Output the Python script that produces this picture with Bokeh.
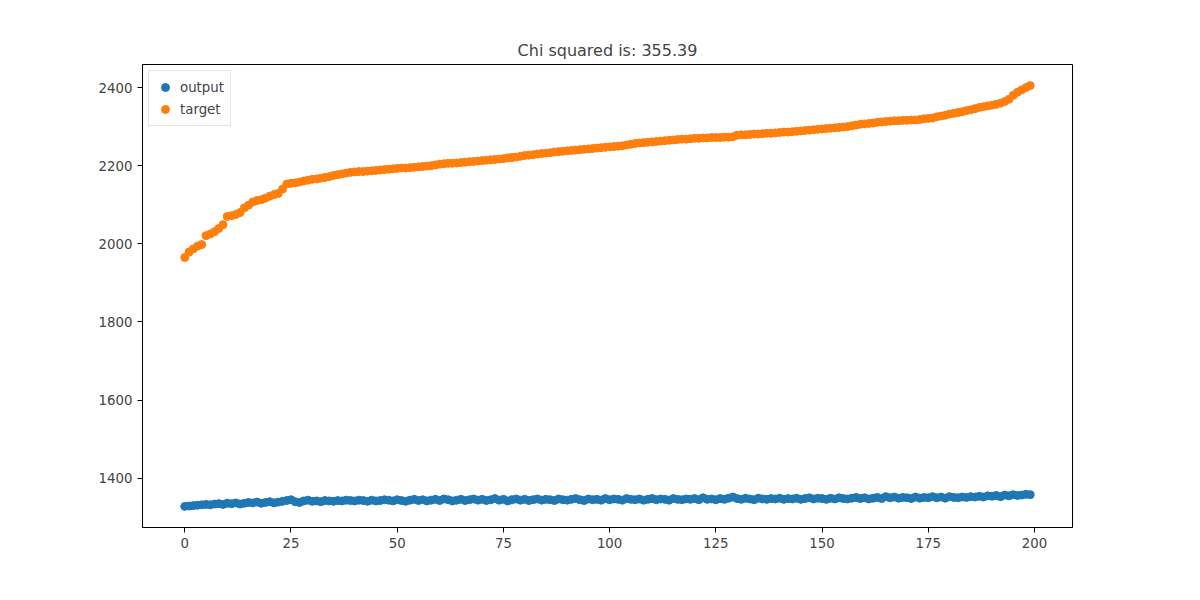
from bokeh.plotting import figure
from bokeh.models import Range1d, FixedTicker, Legend, LegendItem
from bokeh.embed import file_html
from bokeh.resources import INLINE

target = [
    1965, 1979, 1987, 1994, 1998, 2021, 2025, 2031, 2039, 2049,
    2070, 2072, 2075, 2080, 2092, 2099, 2107, 2111, 2113, 2117,
    2122, 2126, 2129, 2140, 2153, 2155, 2156, 2158, 2161, 2163,
    2165, 2166, 2168, 2170, 2172, 2175, 2177, 2179, 2181, 2183,
    2184, 2185, 2185, 2186, 2187, 2188, 2189, 2190, 2191, 2192,
    2193, 2194, 2194, 2195, 2196, 2197, 2198, 2199, 2200, 2202,
    2204, 2205, 2206, 2206, 2207, 2208, 2209, 2210, 2211, 2212,
    2213, 2214, 2215, 2216, 2217, 2218, 2220, 2221, 2222, 2224,
    2226, 2227, 2228, 2230, 2231, 2232, 2233, 2235, 2236, 2237,
    2238, 2239, 2240, 2241, 2242, 2243, 2244, 2245, 2246, 2247,
    2248, 2249, 2250, 2251, 2253, 2255, 2257, 2258, 2259, 2260,
    2261, 2262, 2263, 2264, 2265, 2266, 2267, 2268, 2268, 2269,
    2270, 2270, 2271, 2271, 2272, 2272, 2272, 2273, 2273, 2274,
    2278, 2279, 2279, 2280, 2281, 2281, 2282, 2283, 2283, 2284,
    2285, 2286, 2286, 2287, 2288, 2289, 2290, 2291, 2292, 2293,
    2294, 2295, 2296, 2297, 2298, 2299, 2300, 2302, 2304, 2306,
    2307, 2308, 2309, 2311, 2312, 2313, 2314, 2315, 2315, 2316,
    2316, 2317, 2317, 2318, 2320, 2321, 2322, 2325, 2327, 2329,
    2332, 2334, 2336, 2338, 2341, 2343, 2346, 2349, 2351, 2353,
    2355, 2357, 2360, 2364, 2370, 2380, 2388, 2394, 2400, 2405,
]

output = [
    1328, 1329, 1330, 1331, 1332, 1333, 1332, 1334, 1335, 1333,
    1336, 1335, 1337, 1334, 1336, 1338, 1337, 1339, 1336, 1338,
    1340, 1337, 1339, 1341, 1343, 1345, 1340, 1338, 1342, 1344,
    1341, 1342, 1340, 1343, 1342, 1341, 1343, 1342, 1344, 1343,
    1342, 1344, 1343, 1341, 1344, 1342, 1343, 1345, 1344, 1342,
    1345, 1343, 1341, 1344, 1346, 1343, 1345, 1342, 1344, 1346,
    1343, 1347, 1345, 1342, 1344, 1346, 1343, 1345, 1347, 1344,
    1346, 1343, 1345, 1348, 1344, 1346, 1342, 1345, 1347, 1344,
    1346, 1343, 1345, 1347, 1344, 1346, 1345, 1343, 1347, 1345,
    1344, 1346, 1348, 1345, 1343, 1347, 1345, 1346, 1344, 1348,
    1345, 1347, 1346, 1344, 1348, 1346, 1345, 1347, 1344, 1346,
    1348, 1345, 1347, 1346, 1344, 1348, 1346, 1345, 1347, 1346,
    1348, 1345, 1350, 1346, 1347, 1345, 1348, 1346, 1349, 1352,
    1348, 1346, 1349, 1347, 1345, 1349, 1347, 1346, 1348, 1347,
    1349, 1346, 1348, 1347, 1349, 1346, 1348, 1350, 1347, 1349,
    1348, 1346, 1349, 1347, 1350, 1348, 1347, 1349, 1351, 1348,
    1350, 1347, 1349, 1351, 1348, 1353, 1350, 1352, 1349, 1351,
    1350, 1348, 1352, 1349, 1351, 1350, 1353, 1350, 1352, 1349,
    1353, 1351, 1350, 1352, 1351, 1353, 1352, 1354, 1352, 1355,
    1354, 1356, 1353, 1357, 1355, 1358, 1356, 1357, 1359, 1358,
]

x = list(range(len(target)))
x_ticks = [0, 25, 50, 75, 100, 125, 150, 175, 200]
y_ticks = [1400, 1600, 1800, 2000, 2200, 2400]

p = figure(width=1184, height=584, output_backend="svg", toolbar_location=None,
           x_range=Range1d(-9.95, 208.95), y_range=Range1d(1274, 2459),
           min_border_left=142, min_border_right=112, min_border_top=64,
           min_border_bottom=57, title="Chi squared is: 355.39")
p.title.align = "center"
p.title.text_font = "DejaVu Sans"
p.title.text_font_size = "12pt"
p.title.text_font_style = "normal"
p.grid.visible = False
p.outline_line_color = "black"

for ax, ticks in ((p.xaxis, x_ticks), (p.yaxis, y_ticks)):
    ax.ticker = FixedTicker(ticks=ticks)
    ax.minor_tick_line_color = None
    ax.major_label_text_font = "DejaVu Sans"
    ax.major_label_text_font_size = "10pt"
    ax.major_tick_out = 5
    ax.major_tick_in = 0
    ax.axis_line_color = "black"

r1 = p.scatter(x, output, size=8, color="#1f77b4")
r2 = p.scatter(x, target, size=8, color="#ff7f0e")

legend = Legend(items=[LegendItem(label="output", renderers=[r1]),
                       LegendItem(label="target", renderers=[r2])],
                location="top_left", label_text_font="DejaVu Sans",
                label_text_font_size="10pt", border_line_color="#cccccc",
                glyph_width=20, spacing=2, padding=6, margin=6)
p.add_layout(legend)

open("out.html", "w").write(file_html(p, INLINE))
